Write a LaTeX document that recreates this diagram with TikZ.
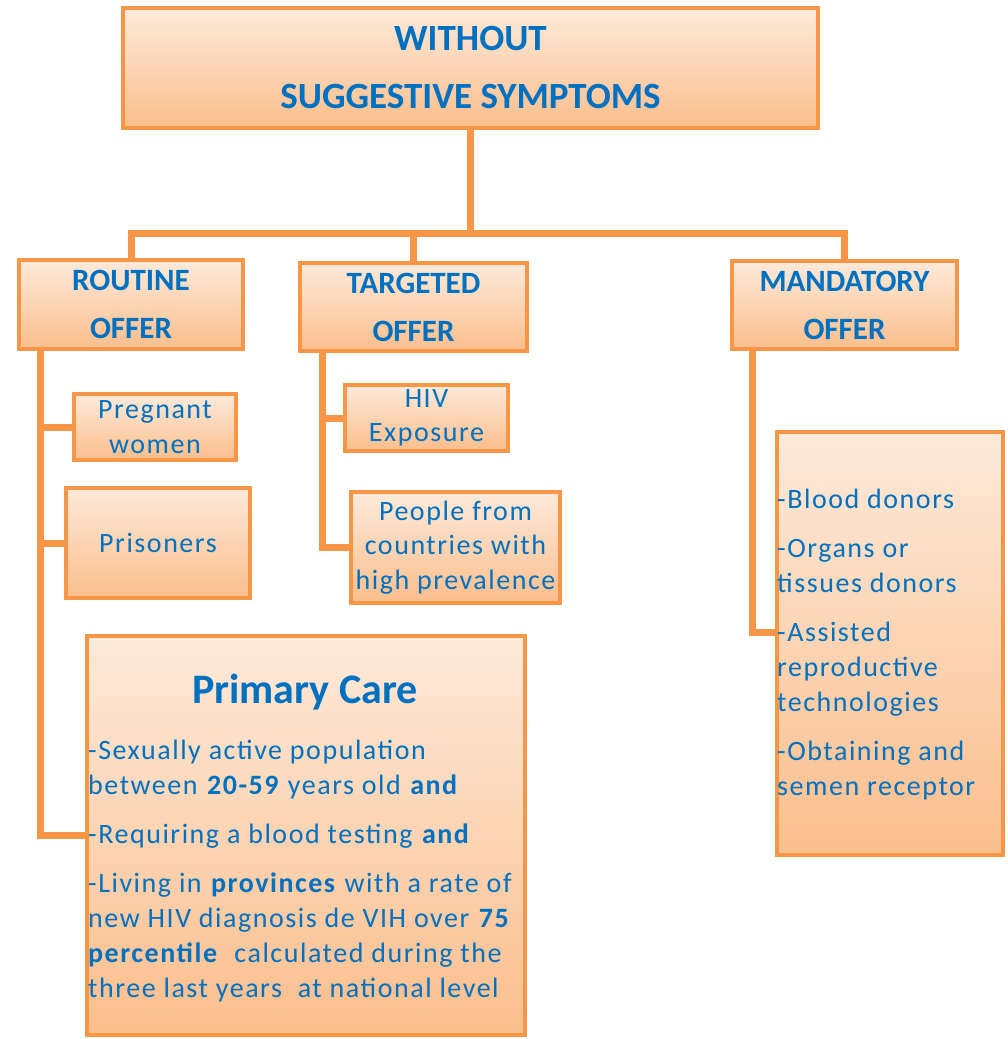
\documentclass[tikz,border=0pt]{standalone}
\usepackage{fontspec}
\setmainfont{Carlito}
\newfontfamily\bodyfont{Carlito}[LetterSpace=5.5]
\definecolor{orb}{HTML}{F79646}
\definecolor{gtop}{HTML}{FDEADA}
\definecolor{gbot}{HTML}{FBBE8C}
\definecolor{txt}{HTML}{0070C0}
\tikzset{
 box/.style={draw=orb, line width=4pt, top color=gtop, bottom color=gbot, text=txt, align=center, inner sep=0pt},
 conn/.style={draw=orb, line width=7pt, line join=miter},
 hdr/.style={font=\fontsize{31}{48}\selectfont\bfseries},
 smalltxt/.style={font=\bodyfont\fontsize{28}{34.5}\selectfont},
 plain/.style={text=txt, inner sep=0pt, align=left, font=\bodyfont\fontsize{28}{35}\selectfont}
}
\begin{document}
\begin{tikzpicture}[x=1pt,y=-1pt]
\useasboundingbox (0,0) rectangle (1007,1039);
% boxes
\node[box, minimum width=695pt, minimum height=120pt, font=\fontsize{37}{58}\selectfont\bfseries] (top) at (470.5,68) {WITHOUT\\SUGGESTIVE SYMPTOMS};
\node[box, hdr, minimum width=224pt, minimum height=89pt] (routine) at (131,304.5) {ROUTINE\\OFFER};
\node[box, hdr, minimum width=227pt, minimum height=88pt] (targeted) at (413.5,307) {TARGETED\\OFFER};
\node[box, hdr, minimum width=225pt, minimum height=88pt] (mandatory) at (844.5,305) {MANDATORY\\OFFER};
\node[box, smalltxt, minimum width=162pt, minimum height=66pt] (pregnant) at (155,427) {Pregnant\\women};
\node[box, smalltxt, minimum width=184pt, minimum height=110pt] (prisoners) at (158,543) {Prisoners};
\node[box, smalltxt, minimum width=163pt, minimum height=66pt] (hiv) at (426.5,418) {HIV\\Exposure};
\node[box, smalltxt, minimum width=209pt, minimum height=111pt] (people) at (455.5,547.5) {People from\\countries with\\high prevalence};
\node[box, minimum width=438pt, minimum height=399pt] (primary) at (306,835.5) {};
\node[box, minimum width=226pt, minimum height=423pt] (list) at (890,643.5) {};
% texts inside the large boxes
\node[text=txt, inner sep=0pt, anchor=base, font=\fontsize{42}{48}\selectfont\bfseries] (ptitle) at (305,703) {Primary Care};
\node[plain, anchor=base west] (ptext) at (88,997) {-Sexually active population\\
between \textbf{20-59} years old \textbf{and}\\[14pt]
-Requiring a blood testing \textbf{and}\\[14pt]
-Living in \textbf{provinces} with a rate of\\
new HIV diagnosis de VIH over \textbf{75}\\
\textbf{percentile}~ calculated during the\\
three last years~ at national level};
\node[plain, anchor=base west] (ltext) at (777,795) {-Blood donors\\[14pt]
-Organs or\\
tissues donors\\[14pt]
-Assisted\\
reproductive\\
technologies\\[14pt]
-Obtaining and\\
semen receptor};
% connectors
\coordinate (bar) at (0,233);
\coordinate (sp1) at (40,0);
\coordinate (sp2) at (322,0);
\coordinate (sp3) at (752,0);
\coordinate (mbr) at (0,632);
\draw[conn] (top.south) -- (top.south |- bar);
\draw[conn] (routine.north) |- (mandatory.north |- bar) -- (mandatory.north);
\draw[conn] (targeted.north) -- (targeted.north |- bar);
\draw[conn] (routine.south -| sp1) |- (primary.west);
\draw[conn] (pregnant.west -| sp1) -- (pregnant.west);
\draw[conn] (prisoners.west -| sp1) -- (prisoners.west);
\draw[conn] (targeted.south -| sp2) |- (people.west);
\draw[conn] (hiv.west -| sp2) -- (hiv.west);
\draw[conn] (mandatory.south -| sp3) |- (list.west |- mbr);
\end{tikzpicture}
\end{document}
